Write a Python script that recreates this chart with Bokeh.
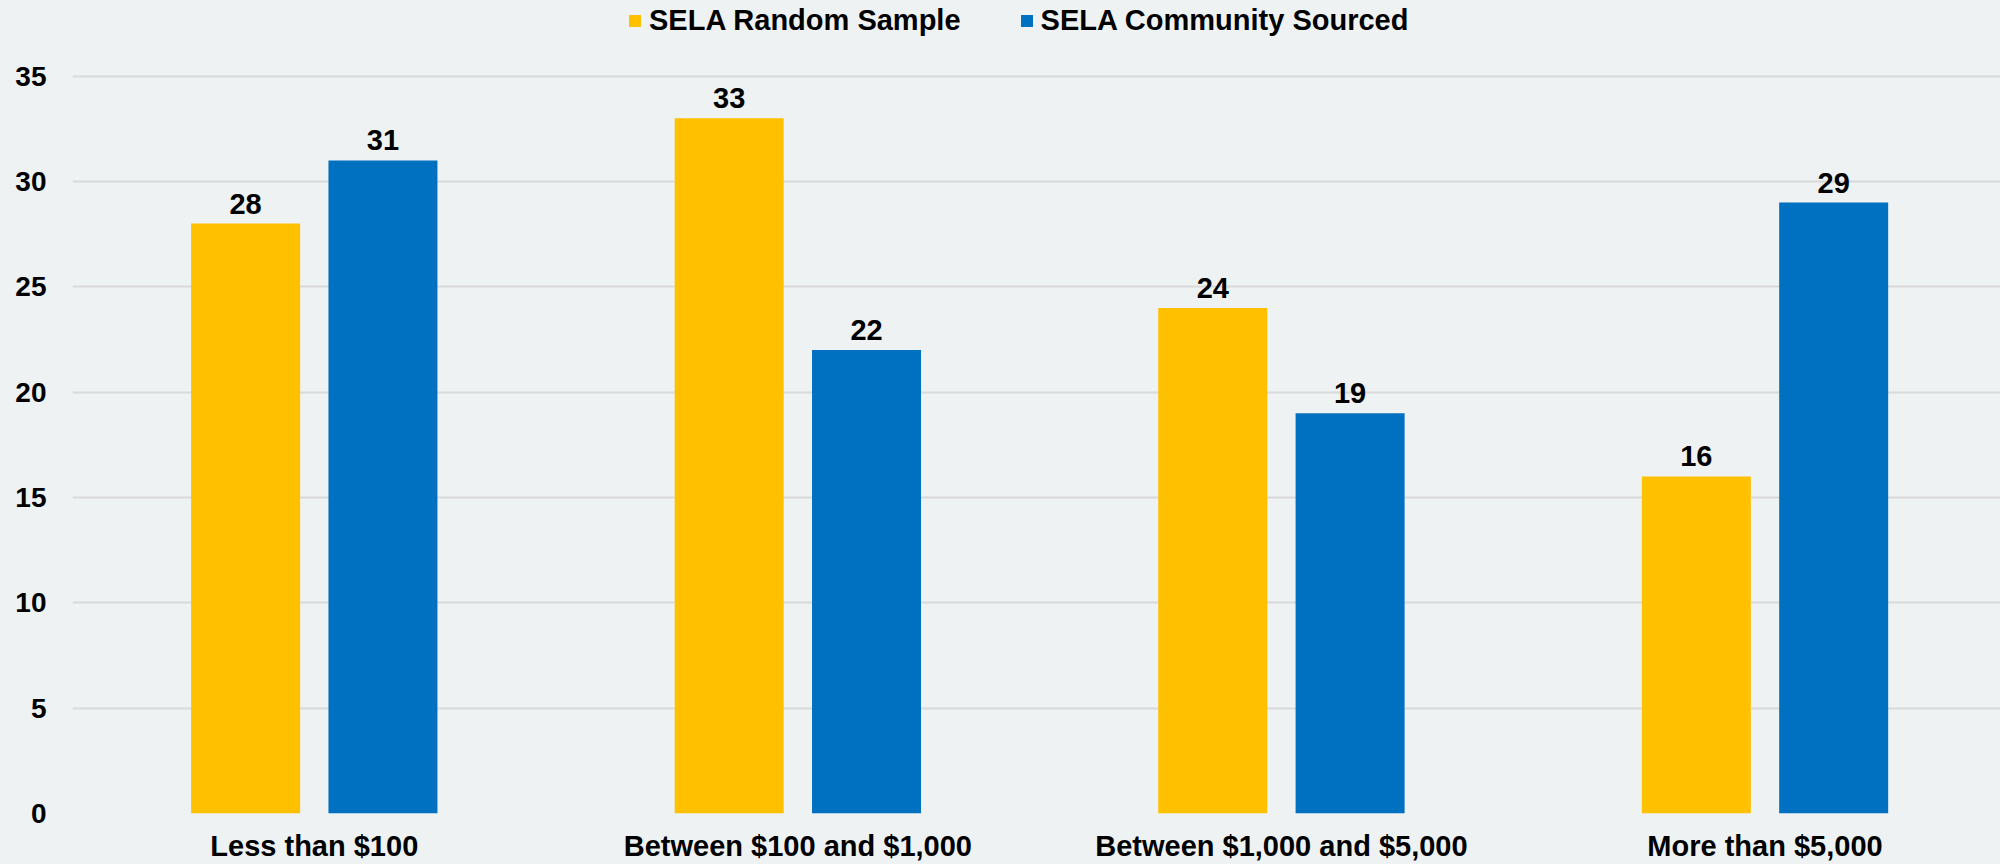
from bokeh.plotting import figure
from bokeh.models import Range1d, FixedTicker, Legend, LegendItem, ColumnDataSource
from bokeh.transform import dodge
from bokeh.embed import file_html
from bokeh.resources import INLINE
from bokeh.core.properties import value

categories = ["Less than $100", "Between $100 and $1,000", "Between $1,000 and $5,000", "More than $5,000"]
series_names = ["SELA Random Sample", "SELA Community Sourced"]
random_sample = [28, 33, 24, 16]
community_sourced = [31, 22, 19, 29]
y_ticks = [0, 5, 10, 15, 20, 25, 30, 35]
colors = ["#FFC000", "#0070C0"]

BG = "#EEF2F3"
FONT = "Liberation Sans"

x_pos = [i + 0.5 for i in range(len(categories))]
src = ColumnDataSource(dict(
    x=x_pos,
    rs=random_sample,
    cs=community_sourced,
    rs_lab=[str(v) for v in random_sample],
    cs_lab=[str(v) for v in community_sourced],
))

p = figure(width=2000, height=864, output_backend="svg", toolbar_location=None,
           x_range=Range1d(0, 3.987), y_range=Range1d(0, 38.59),
           min_border_left=72, min_border_right=0, min_border_top=0, min_border_bottom=51,
           background_fill_color=BG, border_fill_color=BG)
p.outline_line_color = None

try:
    from bokeh.models import GlobalInlineStyleSheet
    p.stylesheets = [GlobalInlineStyleSheet(css="body{background-color:%s;}" % BG)]
except Exception:
    pass

off = 0.142
bw = 0.2254
r1 = p.vbar(x=dodge("x", -off), top="rs", width=bw, source=src, fill_color=colors[0], line_color=None)
r2 = p.vbar(x=dodge("x", off), top="cs", width=bw, source=src, fill_color=colors[1], line_color=None)

for col, lab, d in (("rs", "rs_lab", -off), ("cs", "cs_lab", off)):
    p.text(x=dodge("x", d), y=col, text=lab, source=src, text_align="center",
           text_baseline="alphabetic", y_offset=-20, text_color="black",
           text_font=value(FONT), text_font_size="29px", text_font_style="bold")

p.xgrid.visible = False
p.ygrid.ticker = FixedTicker(ticks=y_ticks)
p.ygrid.grid_line_color = "#D9D9D9"
p.ygrid.grid_line_width = 2

for ax in (p.xaxis[0], p.yaxis[0]):
    ax.axis_line_color = None
    ax.major_tick_line_color = None
    ax.minor_tick_line_color = None
    ax.major_tick_out = 0
    ax.major_tick_in = 0
    ax.major_label_text_font = FONT
    ax.major_label_text_font_style = "bold"
    ax.major_label_text_color = "black"

p.yaxis.ticker = FixedTicker(ticks=y_ticks)
p.yaxis.major_label_text_font_size = "28px"
p.yaxis.major_label_standoff = 26

p.xaxis.ticker = FixedTicker(ticks=x_pos)
p.xaxis.major_label_overrides = {xv: c for xv, c in zip(x_pos, categories)}
p.xaxis.major_label_text_font_size = "29px"
p.xaxis.major_label_standoff = 16

legend = Legend(items=[LegendItem(label=series_names[0], renderers=[r1]),
                       LegendItem(label=series_names[1], renderers=[r2])],
                orientation="horizontal", location=(555, 776),
                glyph_width=15, glyph_height=15, label_standoff=7, spacing=58,
                padding=0, margin=0, border_line_color=None, background_fill_alpha=0,
                label_text_font=FONT, label_text_font_size="29px",
                label_text_font_style="bold", label_text_color="black")
p.add_layout(legend)

open("out.html", "w").write(file_html(p, INLINE))
